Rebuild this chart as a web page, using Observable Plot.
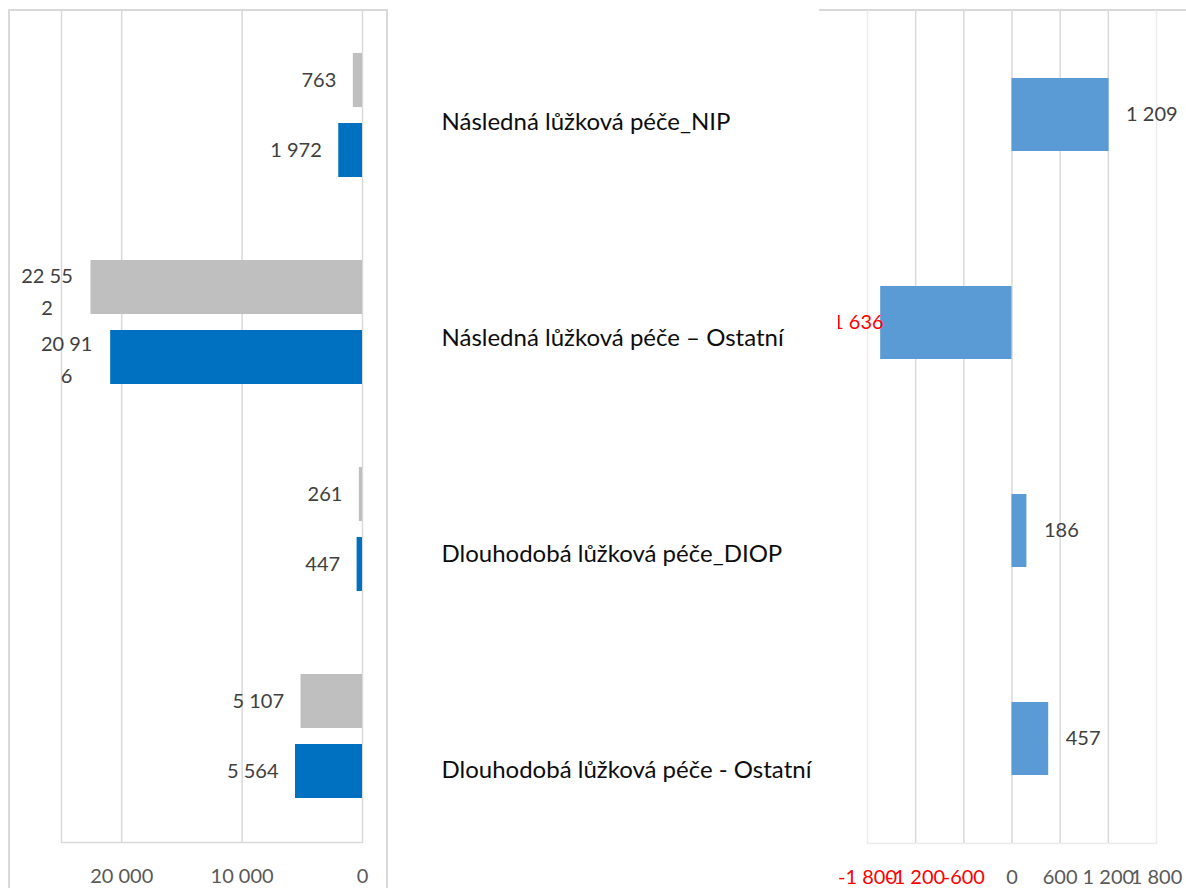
<!DOCTYPE html>
<html>
<head>
<meta charset="utf-8">
<script src="https://cdn.jsdelivr.net/npm/d3@7"></script>
<script src="https://cdn.jsdelivr.net/npm/@observablehq/plot@0.6"></script>
<style>
  html, body { margin: 0; padding: 0; background: #fff; }
  #wrap { position: relative; width: 1186px; height: 888px; overflow: hidden; background: #fff; font-family: Lato, "Open Sans", sans-serif; }
  #wrap svg { overflow: hidden; position: absolute; }
  .border { position: absolute; background: #d9d9d9; }
</style>
</head>
<body>
<div id="wrap">
  <div class="border" style="left:9px;top:9px;width:379px;height:2px"></div>
  <div class="border" style="left:8px;top:9px;width:2px;height:880px"></div>
  <div class="border" style="left:386px;top:9px;width:2px;height:880px"></div>
  <div class="border" style="left:819px;top:9px;width:367px;height:2px"></div>
</div>
<script>
const categories = [
  "Následná lůžková péče_NIP",
  "Následná lůžková péče – Ostatní",
  "Dlouhodobá lůžková péče_DIOP",
  "Dlouhodobá lůžková péče - Ostatní"
];
const valuesGray = [763, 22552, 261, 5107];
const valuesBlue = [1972, 20916, 447, 5564];
const differences = [1209, -1636, 186, 457];
const leftTicks = [0, 10000, 20000];
const leftGrid = [0, 10000, 20000, 25000];
const rightTicks = [-1800, -1200, -600, 0, 600, 1200, 1800];

const locale = d3.formatLocale({decimal: ",", thousands: " ", grouping: [3], currency: ["", " Kč"], minus: "-"});
const fmt = locale.format(",d");
const wrapLabel = v => { const s = fmt(v); return s.length > 5 ? s.slice(0, 5) + "\n" + s.slice(5) : s; };

const rows = categories.map((c, i) => ({cat: c, gray: valuesGray[i], blue: valuesBlue[i], diff: differences[i]}));
const wrap = document.getElementById("wrap");
const font = "Lato, 'Open Sans', sans-serif";

// LEFT CHART
const left = Plot.plot({
  width: 400, height: 888,
  marginLeft: 61, marginRight: 38, marginTop: 10, marginBottom: 46,
  style: {fontFamily: font, fontSize: "20px", background: "transparent"},
  x: {domain: [0, 25000], reverse: true},
  y: {type: "band", domain: categories, paddingInner: 0.399, paddingOuter: 0.2, axis: null},
  marks: [
    Plot.ruleX(leftGrid, {stroke: "#d9d9d9", strokeWidth: 1.5}),
    Plot.frame({anchor: "bottom", stroke: "#d9d9d9", strokeWidth: 1.5}),
    Plot.barX(rows, {y: "cat", x: "gray", fill: "#bfbfbf", insetBottom: 70}),
    Plot.barX(rows, {y: "cat", x: "blue", fill: "#0070c0", insetTop: 70}),
    Plot.text(rows.filter(d => fmt(d.gray).length <= 5), {y: "cat", x: "gray", text: d => fmt(d.gray), dy: -35, dx: -17, textAnchor: "end", fill: "#404040", fontSize: 20}),
    Plot.text(rows.filter(d => fmt(d.gray).length > 5), {y: "cat", x: "gray", text: d => wrapLabel(d.gray), dy: -34, dx: -44, textAnchor: "middle", lineHeight: 1.6, fill: "#404040", fontSize: 20}),
    Plot.text(rows.filter(d => fmt(d.blue).length <= 5), {y: "cat", x: "blue", text: d => fmt(d.blue), dy: 35, dx: -17, textAnchor: "end", fill: "#404040", fontSize: 20}),
    Plot.text(rows.filter(d => fmt(d.blue).length > 5), {y: "cat", x: "blue", text: d => wrapLabel(d.blue), dy: 34, dx: -44, textAnchor: "middle", lineHeight: 1.6, fill: "#404040", fontSize: 20}),
    Plot.axisX(leftTicks, {tickSize: 0, tickPadding: 26, tickFormat: fmt, fill: "#595959", fontSize: 20, label: null})
  ]
});
left.style.left = "0px"; left.style.top = "0px";
wrap.appendChild(left);

// MIDDLE LABELS
const mid = Plot.plot({
  width: 419, height: 888,
  marginLeft: 22, marginRight: 0, marginTop: 14, marginBottom: 10,
  style: {fontFamily: font, background: "transparent"},
  y: {type: "band", domain: categories, padding: 0, axis: null},
  marks: [
    Plot.text(categories, {y: d => d, frameAnchor: "left", textAnchor: "start", fill: "#0d0d0d", fontSize: 24})
  ]
});
mid.style.left = "419px"; mid.style.top = "0px";
wrap.appendChild(mid);

// RIGHT CHART
const right = Plot.plot({
  width: 348, height: 888,
  marginLeft: 29, marginRight: 30, marginTop: 10, marginBottom: 45,
  style: {fontFamily: font, fontSize: "20px", background: "transparent"},
  x: {domain: [-1800, 1800]},
  y: {type: "band", domain: categories, paddingInner: 0.6495, paddingOuter: 0.325, axis: null},
  marks: [
    Plot.ruleX(rightTicks.filter(t => Math.abs(t) < 1800), {stroke: "#d9d9d9", strokeWidth: 1.5}),
    Plot.ruleX(rightTicks.filter(t => Math.abs(t) === 1800), {stroke: "#ececec", strokeWidth: 1.5}),
    Plot.frame({anchor: "bottom", stroke: "#ececec", strokeWidth: 1.5}),
    Plot.barX(rows, {y: "cat", x: "diff", fill: "#5b9bd5"}),
    Plot.text(rows.filter(d => d.diff >= 0), {y: "cat", x: "diff", text: d => fmt(d.diff), dx: 17, textAnchor: "start", fill: "#404040", fontSize: 20}),
    Plot.text(rows.filter(d => d.diff < 0), {y: "cat", x: "diff", text: d => fmt(d.diff), dx: 3, textAnchor: "end", fill: "#ff0000", fontSize: 20}),
    Plot.axisX(rightTicks.filter(t => t < 0), {tickSize: 0, tickPadding: 26, tickFormat: fmt, fill: "#ff0000", fontSize: 20, label: null}),
    Plot.axisX(rightTicks.filter(t => t >= 0), {tickSize: 0, tickPadding: 26, tickFormat: fmt, fill: "#595959", fontSize: 20, label: null})
  ]
});
right.style.left = "838px"; right.style.top = "0px";
wrap.appendChild(right);
</script>
</body>
</html>
